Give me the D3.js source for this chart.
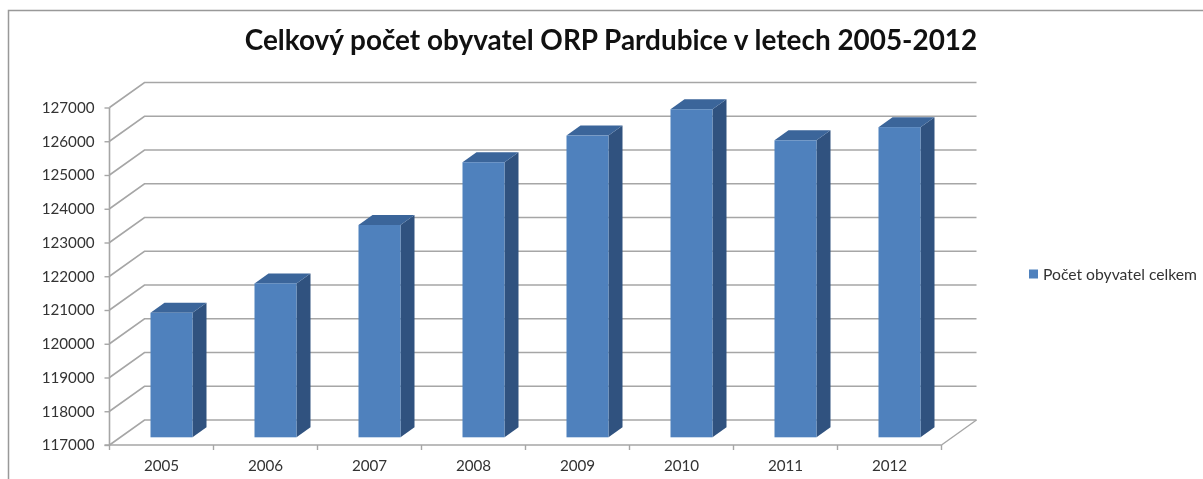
<!DOCTYPE html>
<html><head><meta charset="utf-8">
<script src="https://cdn.jsdelivr.net/npm/d3@7"></script>
<style>html,body{margin:0;padding:0;background:#fff}svg{display:block;filter:blur(0.4px)}text{font-family:Lato,"Open Sans",sans-serif}</style>
</head><body><svg id="c" width="1203" height="479"></svg>
<script>
const categories = ["2005","2006","2007","2008","2009","2010","2011","2012"];
const populationValues = [120690,121560,123290,125150,125940,126720,125800,126190];
const yTickValues = [117000,118000,119000,120000,121000,122000,123000,124000,125000,126000,127000];
const chartTitle = "Celkový počet obyvatel ORP Pardubice v letech 2005-2012";
const legendLabel = "Počet obyvatel celkem";

const svg = d3.select("#c");
const gridColor = "#a6a6a6";
const x = d3.scaleBand().domain(categories).range([109.5,941.5]);
const y = d3.scaleLinear().domain([117000,127000]).range([445,107.5]);
const wallDx = 35, wallDy = -25;      // floor depth
const barOffDx = 10, barOffDy = -7.7; // bar front plane offset from the axis plane
const barDx = 14, barDy = -10, barW = 42;

// frame
svg.append("path").attr("d","M8.5,479V10.5H1203").attr("fill","none").attr("stroke","#999").attr("stroke-width",1.5);

// wall gridlines with the side wall diagonal
svg.append("g").selectAll("path").data(yTickValues).join("path")
  .attr("d",d=>`M${x.range()[0]},${y(d)}l${wallDx},${wallDy}H${x.range()[1]+wallDx}`)
  .attr("fill","none").attr("stroke",gridColor).attr("stroke-width",1.6);
// floor right diagonal
svg.append("line").attr("x1",x.range()[1]).attr("y1",y(117000)).attr("x2",x.range()[1]+wallDx).attr("y2",y(117000)+wallDy)
  .attr("stroke",gridColor).attr("stroke-width",1.4);

// bars
const bars = svg.append("g").selectAll("g").data(categories.map((c,i)=>({c,v:populationValues[i]}))).join("g")
  .attr("transform",d=>`translate(${x(d.c)+x.bandwidth()/2-barW/2+barOffDx},0)`);
const barTop = d=>y(d.v)+barOffDy, barBase = y(117000)+barOffDy;
bars.append("path").attr("fill","#30527f")
  .attr("d",d=>`M${barW},${barTop(d)}l${barDx},${barDy}V${barBase+barDy}l${-barDx},${-barDy}Z`);
bars.append("path").attr("fill","#3b659a")
  .attr("d",d=>`M0,${barTop(d)}l${barDx},${barDy}h${barW}l${-barDx},${-barDy}Z`);
bars.append("rect").attr("fill","#4f81bd").attr("x",0).attr("y",barTop).attr("width",barW).attr("height",d=>barBase-barTop(d));

// axes
const yAxis = svg.append("g").attr("transform",`translate(${x.range()[0]},0)`)
  .call(d3.axisLeft(y).tickValues(yTickValues).tickFormat(d3.format("d")).tickSize(5).tickPadding(10));
const xAxis = svg.append("g").attr("transform",`translate(0,${y(117000)})`)
  .call(d3.axisBottom(x).tickSize(0).tickPadding(15));
[yAxis,xAxis].forEach(a=>{a.selectAll("path.domain").attr("stroke",gridColor).attr("stroke-width",1.6);
  a.selectAll("line").attr("stroke",gridColor).attr("stroke-width",1.4);
  a.selectAll("text").attr("fill","#333").attr("font-size",15.2).attr("font-family","Lato,sans-serif");});
yAxis.selectAll("path.domain").attr("d",`M0,${y(127000)}V${y(117000)}`);
xAxis.selectAll("path.domain").attr("d",`M${x.range()[0]-5},0H${x.range()[1]}`);
svg.append("g").selectAll("line").data(d3.range(categories.length+1)).join("line")
  .attr("x1",i=>x.range()[0]+i*x.step()).attr("x2",i=>x.range()[0]+i*x.step())
  .attr("y1",y(117000)).attr("y2",y(117000)+5).attr("stroke",gridColor).attr("stroke-width",1.4);

// title
svg.append("text").attr("x",611).attr("y",50).attr("text-anchor","middle")
  .attr("font-size",27.9).attr("font-weight",700).attr("fill","#111").text(chartTitle);
// legend
svg.append("rect").attr("x",1029).attr("y",269.5).attr("width",9).attr("height",9).attr("fill","#4f81bd");
svg.append("text").attr("x",1043).attr("y",279.5).attr("font-size",15.7).attr("fill","#333").text(legendLabel);
</script></body></html>
